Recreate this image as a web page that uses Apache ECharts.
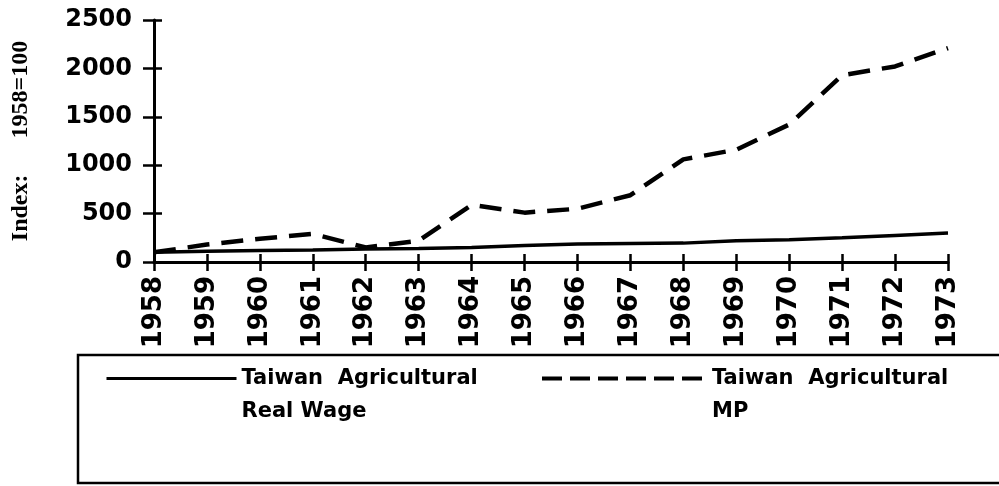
<!doctype html>
<html>
<head>
<meta charset="utf-8">
<title>Taiwan Agricultural Real Wage and MP</title>
<style>
  html, body { margin: 0; padding: 0; background: #fff; }
  #main { width: 999px; height: 486px; }
</style>
</head>
<body>
<div id="main"></div>
<script src="https://cdn.jsdelivr.net/npm/echarts@6/dist/echarts.min.js"></script>
<script>
var years = ['1958', '1959', '1960', '1961', '1962', '1963', '1964', '1965',
             '1966', '1967', '1968', '1969', '1970', '1971', '1972', '1973'];
var realWage = [100, 110, 118, 125, 135, 140, 150, 170, 185, 190, 195, 220, 230, 250, 275, 300];
var marginalProduct = [100, 180, 240, 290, 150, 220, 590, 510, 550, 690, 1060, 1160, 1420, 1930, 2020, 2210];
var yTicks = { min: 0, max: 2500, interval: 500 };

var nameWage = 'Taiwan Agricultural Real Wage';
var nameMP = 'Taiwan Agricultural MP';
var legendText = {};
legendText[nameWage] = '\nTaiwan  Agricultural\nReal Wage';
legendText[nameMP] = '\nTaiwan  Agricultural\nMP';

var myChart = echarts.init(document.getElementById('main'));

var legendStyle = {
  fontFamily: 'DejaVu Sans',
  fontWeight: 'bold',
  fontSize: 21,
  lineHeight: 33,
  color: '#000'
};

var option = {
  backgroundColor: '#fff',
  animation: false,
  grid: { left: 154, right: 51, top: 20, bottom: 224, containLabel: false, outerBoundsMode: 'none' },
  xAxis: [{
    type: 'category',
    data: years,
    boundaryGap: false,
    axisLine: { lineStyle: { color: '#000', width: 3 } },
    axisTick: { length: 9, lineStyle: { color: '#000', width: 2.5 } },
    axisLabel: {
      rotate: 90,
      margin: 14,
      color: '#000',
      fontFamily: 'DejaVu Sans',
      fontWeight: 'bold',
      fontSize: 26
    }
  }, {
    type: 'category',
    data: years,
    boundaryGap: false,
    position: 'bottom',
    axisLine: { show: false },
    axisTick: { inside: true, length: 8, lineStyle: { color: '#000', width: 2.5 } },
    axisLabel: { show: false }
  }],
  yAxis: [{
    type: 'value',
    min: yTicks.min,
    max: yTicks.max,
    interval: yTicks.interval,
    name: 'Index:      1958=100',
    nameLocation: 'middle',
    nameRotate: 90,
    nameGap: 121,
    nameTextStyle: {
      fontFamily: 'Liberation Serif',
      fontWeight: 'bold',
      fontSize: 24,
      color: '#000'
    },
    splitLine: { show: false },
    axisLine: { show: true, lineStyle: { color: '#000', width: 3 } },
    axisTick: { show: true, length: 11, lineStyle: { color: '#000', width: 2.5 } },
    axisLabel: {
      margin: 22,
      color: '#000',
      fontFamily: 'DejaVu Sans',
      fontWeight: 'bold',
      fontSize: 24,
      formatter: function (v) { return String(v); }
    }
  }, {
    type: 'value',
    min: yTicks.min,
    max: yTicks.max,
    interval: yTicks.interval,
    position: 'left',
    splitLine: { show: false },
    axisLine: { show: false },
    axisTick: { show: true, inside: true, length: 8, lineStyle: { color: '#000', width: 2.5 } },
    axisLabel: { show: false }
  }],
  legend: [{
    data: [nameWage],
    left: 105,
    top: 329,
    padding: 0,
    itemWidth: 130,
    itemHeight: 14,
    itemStyle: { opacity: 0 },
    lineStyle: { width: 3 },
    formatter: function (n) { return legendText[n]; },
    textStyle: legendStyle
  }, {
    data: [nameMP],
    left: 540,
    top: 329,
    padding: 0,
    itemWidth: 165,
    itemHeight: 14,
    itemStyle: { opacity: 0 },
    lineStyle: { width: 4, type: [20, 8] },
    formatter: function (n) { return legendText[n]; },
    textStyle: legendStyle
  }],
  graphic: [{
    type: 'rect',
    shape: { x: 78, y: 355, width: 940, height: 128 },
    style: { fill: 'none', stroke: '#000', lineWidth: 2.5 },
    silent: true
  }],
  series: [{
    name: nameWage,
    type: 'line',
    data: realWage,
    symbol: 'none',
    lineStyle: { color: '#000', width: 3.5, type: 'solid' },
    itemStyle: { color: '#000' }
  }, {
    name: nameMP,
    type: 'line',
    data: marginalProduct,
    symbol: 'none',
    lineStyle: { color: '#000', width: 4.5, type: [22, 12] },
    itemStyle: { color: '#000' }
  }]
};

myChart.setOption(option);
</script>
</body>
</html>
